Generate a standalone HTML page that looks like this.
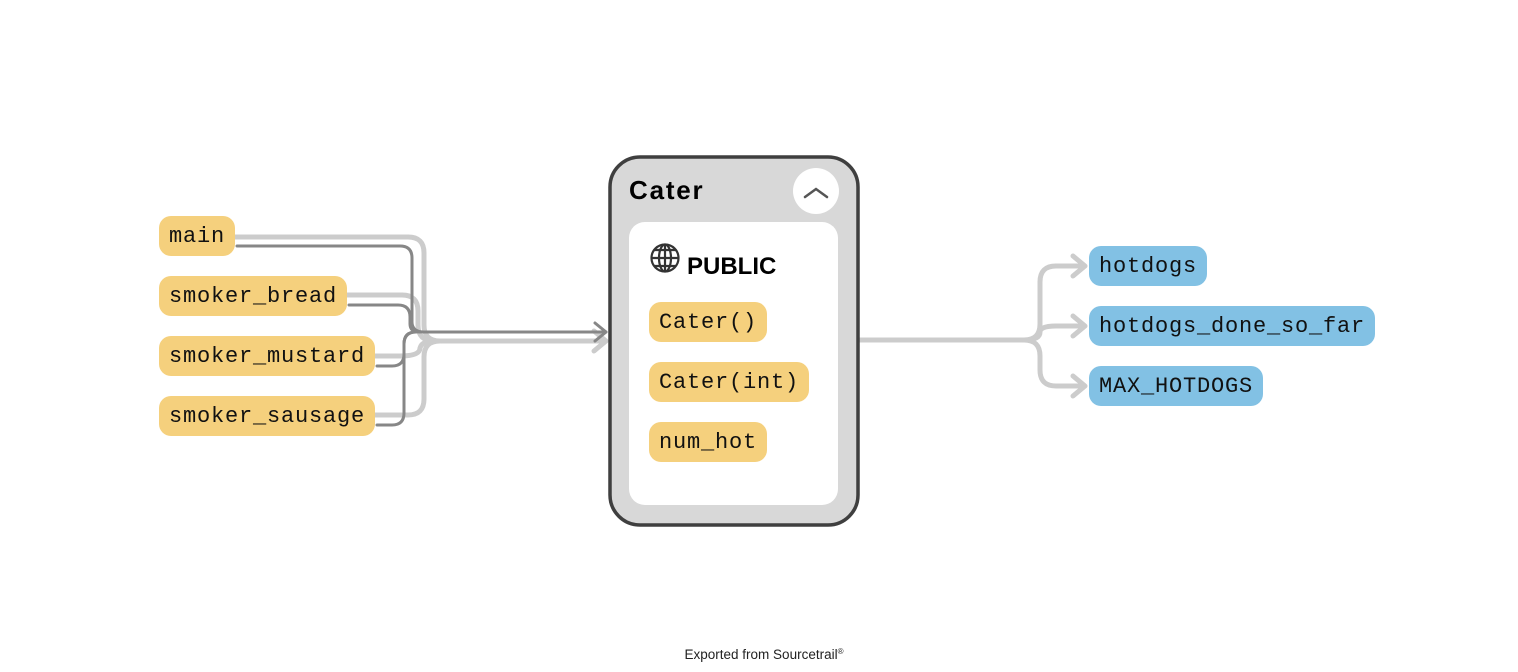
<!DOCTYPE html>
<html><head><meta charset="utf-8"><style>
html,body{margin:0;padding:0;background:#fff;width:1518px;height:672px;overflow:hidden}
svg{display:block}
.m{font-family:"Liberation Mono",monospace;font-size:22px;letter-spacing:0.8px;fill:#111}
.b{font-family:"Liberation Sans",sans-serif;font-weight:bold;fill:#000}
</style></head><body>
<svg width="1518" height="672" viewBox="0 0 1518 672">
<g fill="none" stroke-linecap="round" stroke-linejoin="round">
 <g stroke="#cccccc" stroke-width="5">
  <path d="M235 237 H408 Q424 237 424 253 V325 Q424 341 440 341 H604"/>
  <path d="M347 295 H402 Q418 295 418 311 V325 Q418 341 434 341"/>
  <path d="M375 356 H400 Q420 356 420 348 Q422 341 434 341"/>
  <path d="M375 415 H408 Q424 415 424 399 V357 Q424 341 440 341"/>
  <path d="M594 331 L606 341 L594 351"/>
 </g>
 <g stroke="#878787" stroke-width="3">
  <path d="M237 246 H400 Q412 246 412 258 V322 Q412 332 424 332 H606"/>
  <path d="M349 305 H398 Q410 305 410 317 V324 Q410 332 420 332"/>
  <path d="M377 366 H392 Q404 366 404 354 V344 Q404 332 416 332"/>
  <path d="M377 425 H392 Q404 425 404 413 V344 Q404 332 416 332"/>
  <path d="M595 323 L606 332 L595 341"/>
 </g>
 <g stroke="#cccccc" stroke-width="5">
  <path d="M859 340 H1024 Q1040 340 1040 324 V282 Q1040 266 1056 266 H1084"/>
  <path d="M1024 340 Q1040 340 1040 332 Q1040 326 1056 326 H1084"/>
  <path d="M1024 340 Q1040 340 1040 356 V370 Q1040 386 1056 386 H1084"/>
  <path d="M1073 256 L1085 266 L1073 276"/>
  <path d="M1073 316 L1085 326 L1073 336"/>
  <path d="M1073 376 L1085 386 L1073 396"/>
 </g>
</g>
<g fill="#f5d07d">
 <rect x="159" y="216" width="76" height="40" rx="12"/>
 <rect x="159" y="276" width="188" height="40" rx="12"/>
 <rect x="159" y="336" width="216" height="40" rx="12"/>
 <rect x="159" y="396" width="216" height="40" rx="12"/>
</g>
<text class="m" x="169" y="242">main</text>
<text class="m" x="169" y="302">smoker_bread</text>
<text class="m" x="169" y="362">smoker_mustard</text>
<text class="m" x="169" y="422">smoker_sausage</text>
<g fill="#82c1e4">
 <rect x="1089" y="246" width="118" height="40" rx="12"/>
 <rect x="1089" y="306" width="286" height="40" rx="12"/>
 <rect x="1089" y="366" width="174" height="40" rx="12"/>
</g>
<text class="m" x="1099" y="272">hotdogs</text>
<text class="m" x="1099" y="332">hotdogs_done_so_far</text>
<text class="m" x="1099" y="392">MAX_HOTDOGS</text>
<rect x="610" y="157" width="248" height="368" rx="30" fill="#d8d8d8" stroke="#3f3f3f" stroke-width="3.5"/>
<rect x="629" y="222" width="209" height="283" rx="16" fill="#fff"/>
<circle cx="816" cy="191" r="23" fill="#fff"/>
<path d="M805 197 L816 189 L827 197" fill="none" stroke="#555" stroke-width="2.5" stroke-linecap="round"/>
<text class="b" x="629" y="199" font-size="26" letter-spacing="1.8">Cater</text>
<g fill="none" stroke="#333" stroke-width="2.2">
 <circle cx="665" cy="258" r="13.5"/>
 <ellipse cx="665" cy="258" rx="6" ry="13.5"/>
 <line x1="665" y1="244.5" x2="665" y2="271.5"/>
 <line x1="651.5" y1="258" x2="678.5" y2="258"/>
 <path d="M654 250 H676 M654 266 H676"/>
</g>
<text class="b" x="687" y="274" font-size="24">PUBLIC</text>
<g fill="#f5d07d">
 <rect x="649" y="302" width="118" height="40" rx="12"/>
 <rect x="649" y="362" width="160" height="40" rx="12"/>
 <rect x="649" y="422" width="118" height="40" rx="12"/>
</g>
<text class="m" x="659" y="328">Cater()</text>
<text class="m" x="659" y="388">Cater(int)</text>
<text class="m" x="659" y="448">num_hot</text>
<text x="764" y="659" text-anchor="middle" font-family="Liberation Sans,sans-serif" font-size="13.5" fill="#222">Exported from Sourcetrail<tspan font-size="8" dy="-5">®</tspan></text>
</svg>
</body></html>
